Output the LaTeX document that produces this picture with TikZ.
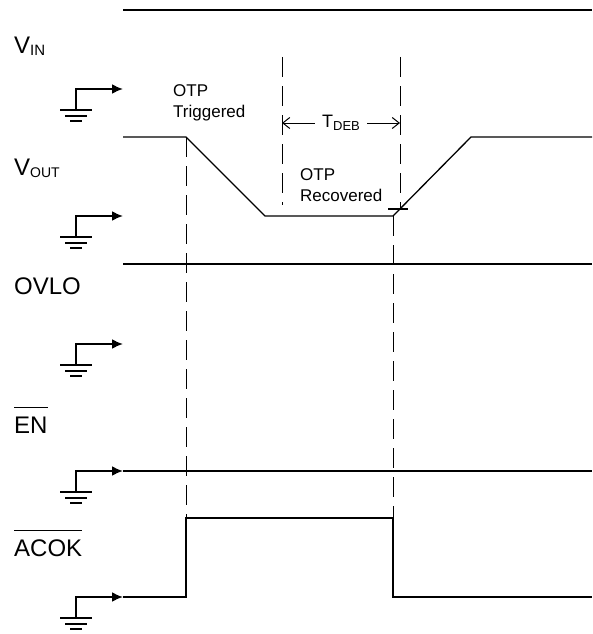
\documentclass[tikz,border=0pt]{standalone}
\usepackage{fontspec}
\setmainfont{Liberation Sans}
\usetikzlibrary{arrows.meta}
\newcommand{\lowtext}[2][15]{\raisebox{-2.5pt}{\fontsize{#1}{#1}\selectfont #2}}
\newcommand{\bartext}[1]{\vbox{\hrule height 1.2pt\kern 8pt\hbox{#1}}}
\begin{document}
\begin{tikzpicture}[x=1pt,y=-1pt,
  sig/.style={line width=1.3pt},
  dsh/.style={line width=1pt,dash pattern=on 20pt off 9pt},
  gnd/.style={line width=2pt},
  lbl/.style={anchor=base west,inner sep=0pt,font=\fontsize{24}{28}\selectfont},
  note/.style={anchor=north west,inner sep=0pt,align=left,font=\fontsize{17}{21}\selectfont}]
\useasboundingbox (0,0) rectangle (592,634);
% signal names
\node[lbl] (vin) at (14,53) {V\lowtext{IN}};
\node[lbl] (vout) at (14,175) {V\lowtext[14]{OUT}};
\node[lbl] (ovlo) at (14,294) {OVLO};
\node[lbl] (en) at (14,433) {\bartext{EN}};
\node[lbl] (acok) at (14,556) {\bartext{ACOK}};
% ground references
\foreach \y in {89,216,344,471,597}{
  \draw[line width=2.6pt] (76,\y+21) -- (76,\y);
  \draw[gnd,-{Latex[length=11pt,width=10pt]}] (75,\y) -- (123,\y);
  \draw[gnd] (60,\y+21) -- (92,\y+21) (65,\y+27) -- (87,\y+27) (70,\y+32) -- (82,\y+32);
}
% waveforms
\draw[sig] (123,10) -- (592,10);
\draw[sig] (123,137) -- (186,137) -- (265,216) -- (393,216) -- (471,137) -- (592,137);
\draw[sig] (123,264) -- (592,264);
\draw[sig] (123,471) -- (592,471);
\draw[sig] (123,597) -- (186,597) -- (186,518) -- (393,518) -- (393,597) -- (592,597);
% timing marks
\draw[dsh] (186,137) -- (186,518);
\draw[dsh] (393,216) -- (393,518);
\draw[dsh] (282,57) -- (282,205);
\draw[dsh] (400,57) -- (400,209);
\draw[sig] (388,209) -- (408,209);
\coordinate (debL) at (282,123);
\coordinate (debR) at (400,123);
\node[inner xsep=7pt,font=\fontsize{18}{20}\selectfont] (tdeb) at (341,123) {T\lowtext[13]{DEB}};
\draw[line width=1pt,-{Straight Barb[length=7pt,width=11pt]}] (tdeb) -- (debL);
\draw[line width=1pt,-{Straight Barb[length=7pt,width=11pt]}] (tdeb) -- (debR);
\node[note] (trig) at (173,84) {OTP\\Triggered};
\node[note] (recov) at (300,168) {OTP\\Recovered};
\end{tikzpicture}
\end{document}
